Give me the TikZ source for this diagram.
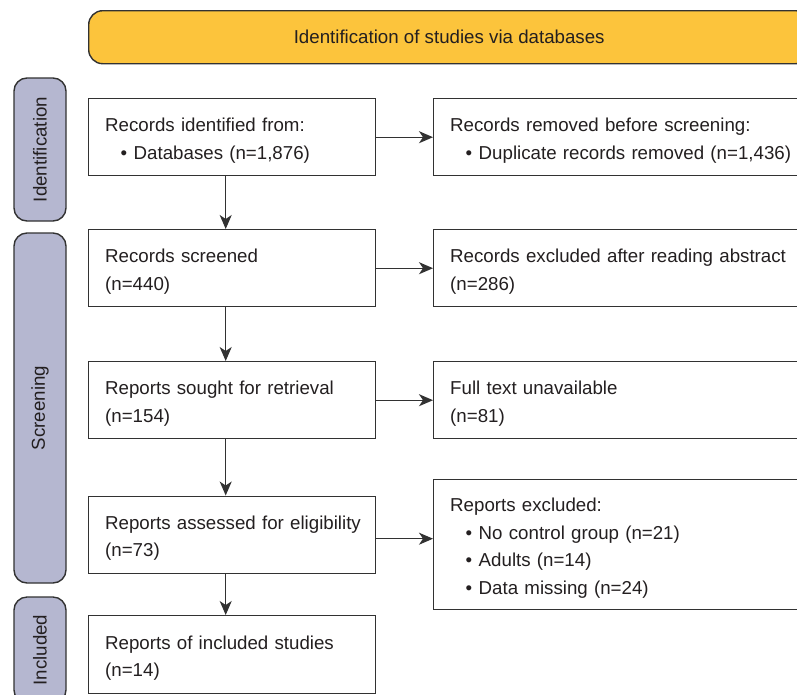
\documentclass[tikz,border=0pt]{standalone}
\usepackage{fontspec}
\setmainfont{Liberation Sans}
\usetikzlibrary{arrows.meta}
\definecolor{bannerfill}{RGB}{252,196,60}
\definecolor{sidefill}{RGB}{181,183,208}
\definecolor{edge}{RGB}{50,50,50}
\definecolor{ink}{RGB}{35,31,32}
\newcommand{\bul}{\hspace*{15.5pt}\textbullet\hspace{6.5pt}}
\begin{document}
\begin{tikzpicture}[x=1pt,y=-1pt,
  every node/.style={font=\fontsize{18.7}{27.5}\selectfont, text=ink},
  flowbox/.style={draw=edge, line width=1.4pt, fill=white, anchor=north west,
    align=left, inner xsep=16.5pt, inner ysep=0pt,
    execute at begin node={\rule{0pt}{20pt}}},
  leftbox/.style={flowbox, text width=254pt},
  rightbox/.style={flowbox, text width=347pt},
  sidebox/.style={draw=edge, line width=1.4pt, fill=sidefill, rounded corners=13pt,
    rotate=90, minimum height=52pt, inner sep=0pt},
  banner/.style={draw=edge, line width=1.4pt, fill=bannerfill, rounded corners=14pt,
    anchor=north west, minimum width=721pt, minimum height=53pt, inner sep=0pt},
  flowarrow/.style={draw=edge, line width=1.3pt, -{Stealth[length=14pt,width=12pt,inset=4pt]}}
]
\useasboundingbox (0,0) rectangle (797,694);
\clip (0,0) rectangle (797,694);
\fill[white] (0,0) rectangle (797,694);

\node[banner] (top) at (88,10) {Identification of studies via databases};

\node[sidebox, minimum width=143pt] (sideid) at (40,149.5) {Identification};
\node[sidebox, minimum width=350pt] (sidescr) at (40,408) {Screening};
\node[sidebox, minimum width=106pt] (sideinc) at (40,650) {Included};

\node[leftbox, minimum height=77pt] (b1) at (88,98)
  {Records identified from:\\\bul Databases (n=1,876)};
\node[leftbox, minimum height=77pt] (b2) at (88,229)
  {Records screened\\(n=440)};
\node[leftbox, minimum height=77pt] (b3) at (88,361)
  {Reports sought for retrieval\\(n=154)};
\node[leftbox, minimum height=77pt] (b4) at (88,495.5)
  {\mbox{Reports assessed for eligibility}\\(n=73)};
\node[leftbox, minimum height=78pt] (b5) at (88,615)
  {Reports of included studies\\(n=14)};

\node[rightbox, minimum height=77pt] (r1) at (433,98)
  {Records removed before screening:\\\mbox{\bul Duplicate records removed (n=1,436)}};
\node[rightbox, minimum height=77pt] (r2) at (433,229)
  {\mbox{Records excluded after reading abstract}\\(n=286)};
\node[rightbox, minimum height=77pt] (r3) at (433,361)
  {Full text unavailable\\(n=81)};
\node[rightbox, minimum height=130pt] (r4) at (433,479)
  {Reports excluded:\\\bul No control group (n=21)\\\bul Adults (n=14)\\\bul Data missing (n=24)};

\draw[flowarrow] (b1.east) -- (b1.east -| r1.west);
\draw[flowarrow] (b2.east) -- (b2.east -| r2.west);
\draw[flowarrow] (b3.east) -- (b3.east -| r3.west);
\draw[flowarrow] ([yshift=-4pt]b4.east) -- ([yshift=-4pt]b4.east -| r4.west);

\draw[flowarrow] ([xshift=-6.5pt]b1.south) -- ([xshift=-6.5pt]b2.north);
\draw[flowarrow] ([xshift=-6.5pt]b2.south) -- ([xshift=-6.5pt]b3.north);
\draw[flowarrow] ([xshift=-6.5pt]b3.south) -- ([xshift=-6.5pt]b4.north);
\draw[flowarrow] ([xshift=-6.5pt]b4.south) -- ([xshift=-6.5pt]b5.north);
\end{tikzpicture}
\end{document}
